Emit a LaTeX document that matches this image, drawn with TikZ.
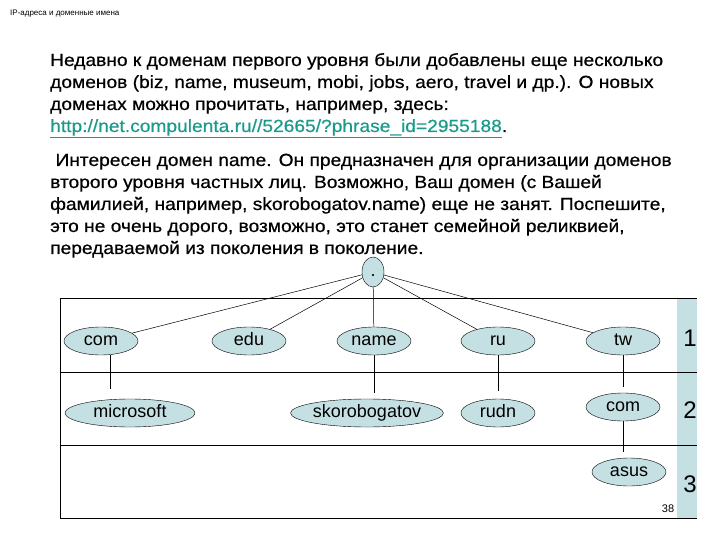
\documentclass[tikz,border=0pt]{standalone}
\usepackage{fontspec}
\setmainfont{Liberation Sans}
\newfontfamily\widefont{Liberation Sans}[FakeStretch=1.09,FakeBold=0.6]
\definecolor{fillc}{HTML}{C5E0E3}
\definecolor{linkc}{HTML}{1A9A8A}
\begin{document}
\begin{tikzpicture}[x=1pt,y=-1pt,
  txt/.style={anchor=base west,inner sep=0pt,font=\widefont\fontsize{17.6}{20}\selectfont},
  el/.style={ellipse,draw,fill=fillc,inner sep=0pt,minimum height=28pt,text height=12pt,text depth=3pt,font=\fontsize{18}{20}\selectfont},
  edge/.style={draw,line width=0.5pt},
  num/.style={font=\fontsize{24}{28}\selectfont}]
\usetikzlibrary{shapes.geometric}
\useasboundingbox (0,0) rectangle (720,540);
\node[anchor=base west,inner sep=0pt,font=\fontsize{8}{9}\selectfont] (hdr) at (10,16) {IP-адреса и доменные имена};
\node[txt] (l1) at (50,66) {Недавно к доменам первого уровня были добавлены еще несколько};
\node[txt] (l2) at (50,88) {доменов (biz, name, museum, mobi, jobs, aero, travel и др.). О новых};
\node[txt] (l3) at (50,110) {доменах можно прочитать, например, здесь:};
\node[txt] (l4) at (50,132) {\textcolor{linkc}{\underline{http://net.compulenta.ru//52665/?phrase\_id=2955188}}.};
\node[txt] (l5) at (50,166) {\ Интересен домен name. Он предназначен для организации доменов};
\node[txt] (l6) at (50,188) {второго уровня частных лиц. Возможно, Ваш домен (с Вашей};
\node[txt] (l7) at (50,210) {фамилией, например, skorobogatov.name) еще не занят. Поспешите,};
\node[txt] (l8) at (50,232) {это не очень дорого, возможно, это станет семейной реликвией,};
\node[txt] (l9) at (50,254) {передаваемой из поколения в поколение.};
% table
\draw[line width=0.8pt] (60,298) rectangle (677,518);
\draw[line width=0.8pt] (60,372) -- (677,372) (60,445) -- (677,445);
\fill[fillc] (677,298) rectangle (697,518);
\draw[line width=0.8pt] (677,298) -- (697,298) (677,372) -- (697,372) (677,445) -- (697,445) (677,518) -- (697,518);
\node[num] (n1) at (690,338) {1};
\node[num] (n2) at (690,410) {2};
\node[num] (n3) at (690,484) {3};
\node[font=\fontsize{11}{12}\selectfont,inner sep=0pt] (pg) at (668,509) {38};
% nodes
\node[el,minimum width=22pt,minimum height=30pt] (root) at (373,272) {.};
\node[el,minimum width=74pt] (com) at (101,341) {com};
\node[el,minimum width=74pt] (edu) at (249,341) {edu};
\node[el,minimum width=74pt] (name) at (374,341) {name};
\node[el,minimum width=74pt] (ru) at (498,341) {ru};
\node[el,minimum width=74pt] (tw) at (623,341) {tw};
\node[el,minimum width=130pt] (ms) at (130,413) {microsoft};
\node[el,minimum width=130pt] (sk) at (367,413) {skorobogatov};
\node[el,minimum width=74pt] (rudn) at (498,413) {rudn};
\node[el,minimum width=74pt] (com2) at (623,407) {com};
\node[el,minimum width=74pt] (asus) at (629,472) {asus};
% edges
\draw[edge] (root) -- (com);
\draw[edge] (root) -- (edu);
\draw[edge] (root) -- (name);
\draw[edge] (root) -- (ru);
\draw[edge] (root) -- (tw);
\draw[edge,shorten >=10pt] (com.south -| 110,0) coordinate (a1) -- (a1 |- ms.north);
\draw[edge,shorten >=6pt] (name.south) -- (name.south |- sk.north);
\draw[edge,shorten >=8pt] (ru.south) -- (rudn.north);
\draw[edge,shorten >=6pt] (tw.south) -- (com2.north);
\draw[edge,shorten >=6pt] (com2.south) -- (com2.south |- asus.north);
\end{tikzpicture}
\end{document}
